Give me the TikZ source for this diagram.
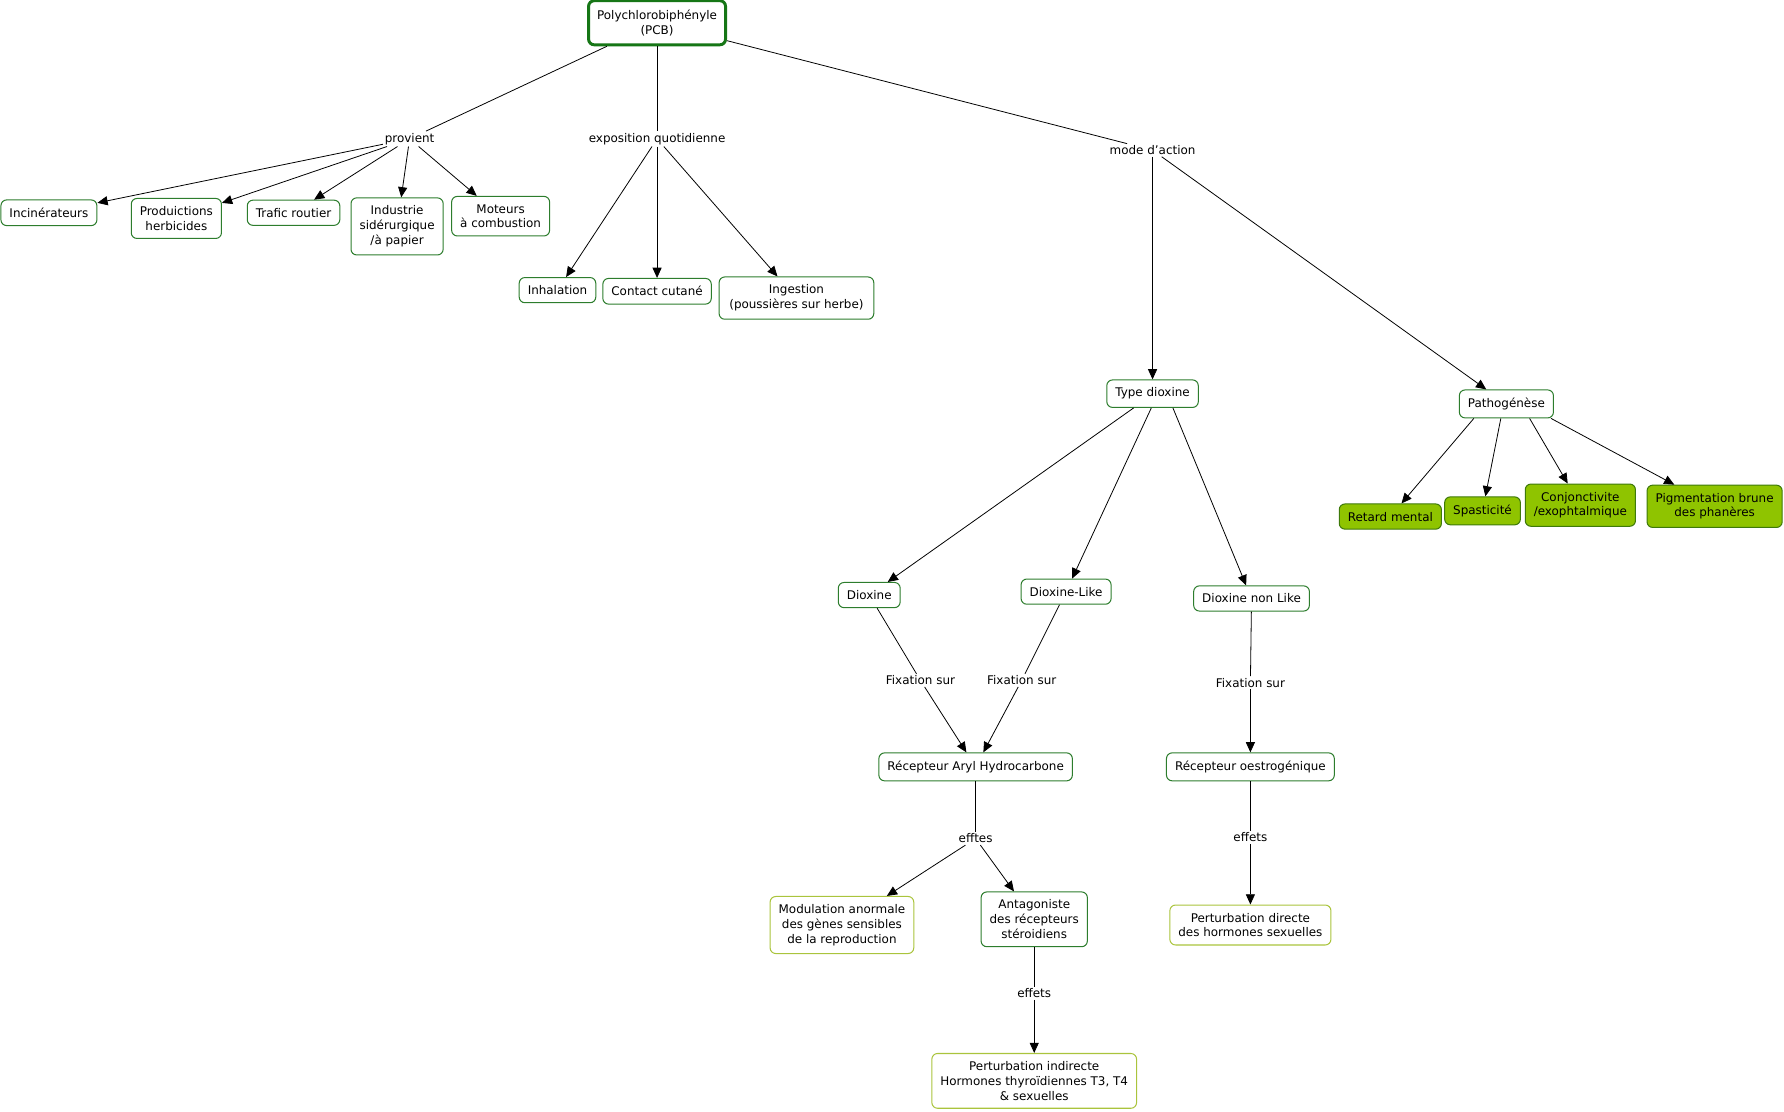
\documentclass[tikz,border=0pt]{standalone}
\usepackage{fontspec}
\setmainfont{DejaVu Sans}
\usepackage{xcolor}
\usepackage{tikz}
\usetikzlibrary{arrows.meta, positioning}
\definecolor{conceptgreen}{RGB}{45, 125, 45}
\definecolor{rootgreen}{RGB}{22, 118, 22}
\definecolor{leafgreen}{RGB}{170, 196, 60}
\definecolor{fillgreen}{RGB}{143, 196, 0}
\definecolor{fillborder}{RGB}{62, 122, 10}

\tikzset{
    concept/.style={draw=conceptgreen, line width=0.9pt, rounded corners=5pt, fill=white,
        align=center, inner xsep=7.5pt, inner ysep=7pt},
    rootbox/.style={concept, draw=rootgreen, line width=2.6pt, inner ysep=8pt},
    leafbox/.style={concept, draw=leafgreen},
    greenbox/.style={concept, draw=fillborder, fill=fillgreen},
    linkword/.style={fill=white, inner sep=1.5pt},
    link/.style={line width=0.7pt},
    arrowlink/.style={link, -{Triangle[length=9pt, width=8pt]}}
}

\begin{document}
\begin{tikzpicture}[x=1pt, y=-1pt, every node/.style={font=\fontsize{10.5}{13}\selectfont}]
    \useasboundingbox (0,0) rectangle (1568,977);

    % root and link words
    \node[rootbox] (pcb) at (577.5,20) {Polychlorobiphényle\\(PCB)};
    \node[linkword] (provient) at (360,122) {provient};
    \node[linkword] (expo) at (577.5,122) {exposition quotidienne};
    \node[linkword] (mode) at (1013,132) {mode d'action};

    % sources
    \node[concept] (incin) at (43,187) {Incinérateurs};
    \node[concept] (herbi) at (155,192) {Produictions\\herbicides};
    \node[concept] (trafic) at (258,187) {Trafic routier};
    \node[concept] (indus) at (349,199) {Industrie\\sidérurgique\\/à papier};
    \node[concept] (moteur) at (440,190) {Moteurs\\à combustion};

    % exposure
    \node[concept] (inhal) at (490,255) {Inhalation};
    \node[concept] (contact) at (577.5,256) {Contact cutané};
    \node[concept, inner xsep=9pt] (ingest) at (700,262) {Ingestion\\(poussières sur herbe)};

    % mode of action
    \node[concept] (type) at (1013,346) {Type dioxine};
    \node[concept] (patho) at (1324,355) {Pathogénèse};
    \node[greenbox] (retard) at (1222,454) {Retard mental};
    \node[greenbox] (spast) at (1303,449) {Spasticité};
    \node[greenbox] (conj) at (1389,444) {Conjonctivite\\/exophtalmique};
    \node[greenbox] (pigm) at (1507,445) {Pigmentation brune\\des phanères};

    \node[concept] (diox) at (764,523) {Dioxine};
    \node[concept] (dlike) at (937,520) {Dioxine-Like};
    \node[concept] (dnon) at (1100,526) {Dioxine non Like};
    \node[linkword] (fixa) at (809,598) {Fixation sur};
    \node[linkword] (fixb) at (898,598) {Fixation sur};
    \node[linkword] (fixc) at (1099,600) {Fixation sur};

    \node[concept] (arylrec) at (857.5,674) {Récepteur Aryl Hydrocarbone};
    \node[concept] (oestrec) at (1099,674) {Récepteur oestrogénique};
    \node[linkword] (efftes) at (857.5,737) {efftes};
    \node[linkword] (effetsa) at (1099,736) {effets};
    \node[leafbox] (modul) at (740,813) {Modulation anormale\\des gènes sensibles\\de la reproduction};
    \node[concept] (antag) at (909,808) {Antagoniste\\des récepteurs\\stéroidiens};
    \node[leafbox] (pdirect) at (1099,813) {Perturbation directe\\des hormones sexuelles};
    \node[linkword] (effetsb) at (909,873) {effets};
    \node[leafbox] (pindirect) at (909,950) {Perturbation indirecte\\Hormones thyroïdiennes T3, T4\\\& sexuelles};

    % connectors
    \draw[link] (pcb) -- (provient);
    \draw[link] (pcb) -- (expo);
    \draw[link] (pcb) -- (mode);

    \draw[arrowlink] (provient) -- (incin);
    \draw[arrowlink] (provient) -- (herbi);
    \draw[arrowlink] (provient) -- (trafic);
    \draw[arrowlink] (provient) -- (indus);
    \draw[arrowlink] (provient) -- (moteur);

    \draw[arrowlink] (expo) -- (inhal);
    \draw[arrowlink] (expo) -- (contact);
    \draw[arrowlink] (expo) -- (ingest);

    \draw[arrowlink] (mode) -- (type);
    \draw[arrowlink] (mode) -- (patho);
    \draw[arrowlink] (patho.204) -- (retard);
    \draw[arrowlink] (patho.249) -- (spast);
    \draw[arrowlink] (patho.328) -- (conj);
    \draw[arrowlink] (patho.342) -- (pigm);

    \draw[arrowlink] (type.217) -- (diox);
    \draw[arrowlink] (type.265) -- (dlike);
    \draw[arrowlink] (type.325) -- (dnon);

    \draw[link] (diox) -- (fixa);
    \draw[arrowlink] (fixa) -- (arylrec);
    \draw[link] (dlike) -- (fixb);
    \draw[arrowlink] (fixb) -- (arylrec);
    \draw[link] (dnon) -- (fixc);
    \draw[arrowlink] (fixc) -- (oestrec);

    \draw[link] (arylrec) -- (efftes);
    \draw[arrowlink] (efftes) -- (modul);
    \draw[arrowlink] (efftes) -- (antag);
    \draw[link] (oestrec) -- (effetsa);
    \draw[arrowlink] (effetsa) -- (pdirect);
    \draw[link] (antag) -- (effetsb);
    \draw[arrowlink] (effetsb) -- (pindirect);
\end{tikzpicture}
\end{document}
